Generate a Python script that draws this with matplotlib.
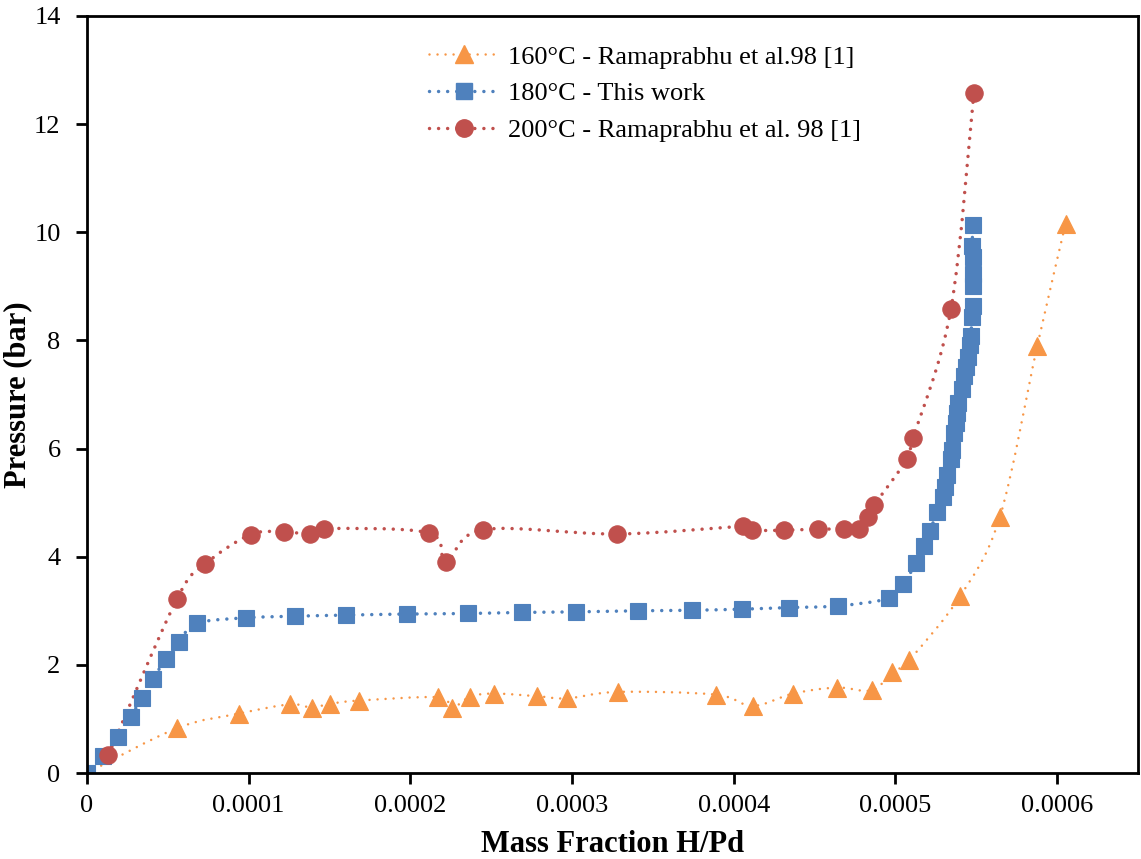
import numpy as np
import matplotlib.pyplot as plt
from matplotlib.path import Path
from matplotlib.patches import PathPatch
from matplotlib.lines import Line2D

plt.rcParams['font.family'] = ['Liberation Serif', 'DejaVu Serif']

# 160 C - Ramaprabhu et al.
x160 = [0, 0.0000558, 0.0000942, 0.0001255, 0.000139, 0.0001503, 0.0001684,
        0.0002173, 0.0002255, 0.0002369, 0.0002517, 0.0002785, 0.000297, 0.0003282,
        0.0003888, 0.0004117, 0.0004368, 0.0004636, 0.0004855, 0.0004981, 0.0005085,
        0.00054, 0.0005646, 0.0005877, 0.0006052]
y160 = [0, 0.83, 1.10, 1.27, 1.21, 1.28, 1.34,
        1.40, 1.20, 1.41, 1.47, 1.42, 1.38, 1.50,
        1.45, 1.24, 1.47, 1.58, 1.53, 1.87, 2.09,
        3.27, 4.74, 7.90, 10.16]

# 180 C - this work
x180 = [0, 0.0000101, 0.0000194, 0.000027, 0.0000338, 0.0000406, 0.0000489, 0.0000569,
        0.0000682, 0.0000983, 0.0001286, 0.00016, 0.0001977, 0.0002358, 0.0002692,
        0.0003024, 0.0003406, 0.000374, 0.0004049, 0.0004343, 0.0004642, 0.000496,
        0.0005048, 0.0005127, 0.0005176, 0.0005213, 0.0005258, 0.0005292, 0.0005306,
        0.000532, 0.0005341, 0.0005351, 0.0005364, 0.0005372, 0.0005378, 0.0005388,
        0.0005413, 0.0005425, 0.0005434, 0.0005447, 0.0005461, 0.0005465, 0.0005475,
        0.0005478, 0.0005481, 0.0005478, 0.0005481, 0.0005475, 0.0005478]
y180 = [0, 0.31, 0.66, 1.04, 1.38, 1.73, 2.11, 2.43,
        2.77, 2.87, 2.90, 2.92, 2.94, 2.95, 2.97,
        2.98, 3.00, 3.01, 3.03, 3.06, 3.09, 3.23,
        3.49, 3.89, 4.19, 4.48, 4.83, 5.11, 5.29,
        5.51, 5.80, 5.98, 6.28, 6.47, 6.65, 6.84,
        7.11, 7.34, 7.51, 7.70, 7.92, 8.08, 8.43,
        8.64, 9.00, 9.23, 9.55, 9.75, 10.13]

# 200 C - Ramaprabhu et al.
x200 = [0.0000132, 0.0000555, 0.000073, 0.0001012, 0.0001218, 0.0001379, 0.0001468,
        0.0002115, 0.000222, 0.0002447, 0.000328, 0.0004059, 0.000411, 0.000431,
        0.000452, 0.000468, 0.0004776, 0.0004828, 0.000487, 0.000507, 0.000511,
        0.0005343, 0.0005485]
y200 = [0.33, 3.21, 3.86, 4.41, 4.46, 4.42, 4.52,
        4.44, 3.90, 4.50, 4.42, 4.56, 4.49, 4.49,
        4.51, 4.51, 4.51, 4.73, 4.96, 5.80, 6.20,
        8.58, 12.58]

labels = ['160°C - Ramaprabhu et al.98 [1]', '180°C - This work',
          '200°C - Ramaprabhu et al. 98 [1]']
colors = ['#F79646', '#4F81BD', '#C0504D']
markers = ['^', 's', 'o']
msizes = [13, 11, 12.5]
lws = [1.8, 2.5, 2.5]
gaps = [3.2, 2.6, 2.6]
xticks = [0, 0.0001, 0.0002, 0.0003, 0.0004, 0.0005, 0.0006]
xticklabels = ['0', '0.0001', '0.0002', '0.0003', '0.0004', '0.0005', '0.0006']


def smooth_path(xs, ys):
    # excel style smoothed line: cubic bezier through the points
    p = np.column_stack([xs, ys])
    n = len(p)
    verts = [p[0]]
    codes = [Path.MOVETO]
    for i in range(n - 1):
        p0 = p[i - 1] if i > 0 else p[i]
        p3 = p[i + 2] if i + 2 < n else p[i + 1]
        c1 = p[i] + (p[i + 1] - p0) / 6
        c2 = p[i + 1] - (p3 - p[i]) / 6
        verts += [c1, c2, p[i + 1]]
        codes += [Path.CURVE4] * 3
    return Path(verts, codes)


fig = plt.figure(figsize=(11.41, 8.59), dpi=100)
ax = fig.add_axes([0.0762, 0.1001, 0.9212, 0.8813])

handles = []
for xs, ys, c, m, ms, lw, g, lab in zip([x160, x180, x200], [y160, y180, y200],
                                        colors, markers, msizes, lws, gaps, labels):
    dash = (0, (0.01, g))
    patch = PathPatch(smooth_path(xs, ys), fill=False, edgecolor=c, lw=lw,
                      linestyle=dash, capstyle='round')
    ax.add_patch(patch)
    ax.plot(xs, ys, linestyle='none', marker=m, ms=ms, color=c, mec=c, mew=0.8)
    handles.append(Line2D([], [], color=c, lw=lw, linestyle=dash,
                          dash_capstyle='round', marker=m, ms=ms, mec=c))

ax.set_xlim(0, 0.00065)
ax.set_ylim(0, 14)
ax.set_xticks(xticks)
ax.set_xticklabels(xticklabels)
ax.set_yticks(range(0, 15, 2))
ax.tick_params(direction='out', length=8, width=2, labelsize=19)
ax.tick_params(axis='y', pad=11)
ax.tick_params(axis='x', pad=8)
for s in ax.spines.values():
    s.set_linewidth(2)

ax.set_xlabel('Mass Fraction H/Pd', fontsize=22, fontweight='bold', labelpad=9)
ax.set_ylabel('Pressure (bar)', fontsize=22, fontweight='bold', labelpad=1)

ax.legend(handles, labels, loc='upper left', bbox_to_anchor=(0.355, 0.975),
          bbox_transform=fig.transFigure, frameon=False, fontsize=19,
          handlelength=2.7, handletextpad=0.3, labelspacing=0.5)

fig.savefig('out.png', dpi=100)
